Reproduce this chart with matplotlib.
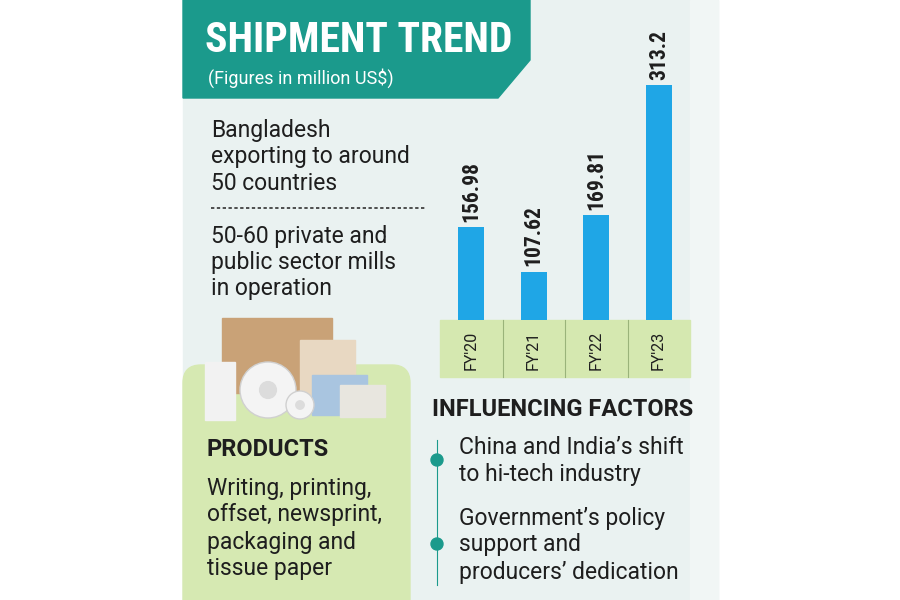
import matplotlib
matplotlib.use("Agg")
import matplotlib.pyplot as plt
from matplotlib.patches import Rectangle, Polygon, FancyBboxPatch, Circle

years = ["FY'20", "FY'21", "FY'22", "FY'23"]
values = [156.98, 107.62, 169.81, 313.2]
value_labels = ["156.98", "107.62", "169.81", "313.2"]

plt.rcParams['font.family'] = ['Roboto', 'DejaVu Sans']
fig = plt.figure(figsize=(9, 6), dpi=100)
bg = fig.add_axes([0, 0, 1, 1])
bg.set_xlim(0, 900); bg.set_ylim(600, 0); bg.axis('off')

bg.add_patch(Rectangle((183, 0), 535, 600, color='#eaf2f1', zorder=0))
bg.add_patch(Rectangle((690, 0), 28, 600, color='#f1f6f5', zorder=0))
# header
bg.add_patch(Polygon([(183, 0), (530, 0), (530, 60), (498, 98), (183, 98)], closed=True, color='#1b9a8c', zorder=1))
bg.text(205, 40, "SHIPMENT TREND", color='white', fontsize=30, fontweight='bold', va='center', family=['Roboto Condensed', 'Roboto', 'DejaVu Sans'])
bg.text(208, 78, "(Figures in million US$)", color='white', fontsize=13, va='center')

tc = '#1e1e1e'
fs = 16.5
for y, t in [(130, "Bangladesh"), (156, "exporting to around"), (183, "50 countries"),
             (236, "50-60 private and"), (262, "public sector mills"), (289, "in operation")]:
    bg.text(211, y, t, fontsize=fs, color=tc, va='center')
bg.plot([211, 425], [208, 208], ls=(0, (2, 1.5)), color='#333333', lw=1.2)

# label strip
bg.add_patch(Rectangle((440, 320), 250, 57, color='#d5e8b0', zorder=1))
for x in [502.5, 565, 627.5]:
    bg.plot([x, x], [320, 377], color='#9ab37a', lw=0.8, zorder=2)
for i, y in enumerate(years):
    bg.text(471 + 62.5 * i, 350, y, rotation=90, fontsize=11.5, color=tc, ha='center', va='center', zorder=3)

# products box
bg.add_patch(FancyBboxPatch((183, 365), 227, 260, boxstyle='round,pad=0,rounding_size=18', color='#d6e9b2', zorder=1))
# simple product illustration
bg.add_patch(Rectangle((222, 318), 110, 75, color='#c9a277', zorder=2))
bg.add_patch(Rectangle((300, 340), 55, 55, color='#e8d8c2', zorder=2))
bg.add_patch(Rectangle((312, 375), 55, 40, color='#a9c5e0', zorder=3))
bg.add_patch(Rectangle((340, 385), 45, 32, color='#e8e6df', zorder=3))
bg.add_patch(Rectangle((205, 362), 30, 58, color='#f2f2f2', zorder=3))
for cx, cy, r in [(268, 390, 28), (300, 405, 14)]:
    bg.add_patch(Circle((cx, cy), r, color='#f4f4f4', ec='#d0d0d0', zorder=4))
    bg.add_patch(Circle((cx, cy), r * 0.3, color='#dcdcdc', zorder=5))
bg.text(207, 449, "PRODUCTS", fontsize=17, fontweight='bold', color=tc, va='center')
for y, t in [(488, "Writing, printing,"), (515, "offset, newsprint,"), (542, "packaging and"), (569, "tissue paper")]:
    bg.text(207, y, t, fontsize=fs, color=tc, va='center')

# influencing factors
bg.text(432, 410, "INFLUENCING FACTORS", fontsize=17, fontweight='bold', color=tc, va='center')
bg.plot([437, 437], [440, 585], color='#1b9a8c', lw=0.8)
for cy in [460, 544]:
    bg.add_patch(Circle((437, cy), 6, color='#1b9a8c', zorder=3))
for y, t in [(448, "China and India\u2019s shift"), (475, "to hi-tech industry"),
             (518, "Government\u2019s policy"), (545, "support and"), (572, "producers\u2019 dedication")]:
    bg.text(459, y, t, fontsize=fs, color=tc, va='center')

# bar chart
ax = fig.add_axes([440 / 900, (600 - 320) / 600, 250 / 900, 260 / 600])
ax.patch.set_alpha(0)
x = list(range(len(years)))
ax.bar(x, values, width=0.42, color='#1fa6e6', bottom=0)
ax.set_xlim(-0.5, 3.5)
ax.set_ylim(54.7, 54.7 + 260 / 0.909)
for i, (v, lab) in enumerate(zip(values, value_labels)):
    ax.text(i, v + 6, lab, rotation=90, ha='center', va='bottom', fontsize=15.5, fontweight='bold', color=tc,
            family=['Roboto Condensed', 'Roboto', 'DejaVu Sans'])
ax.axis('off')

fig.savefig("out.png", dpi=100)
